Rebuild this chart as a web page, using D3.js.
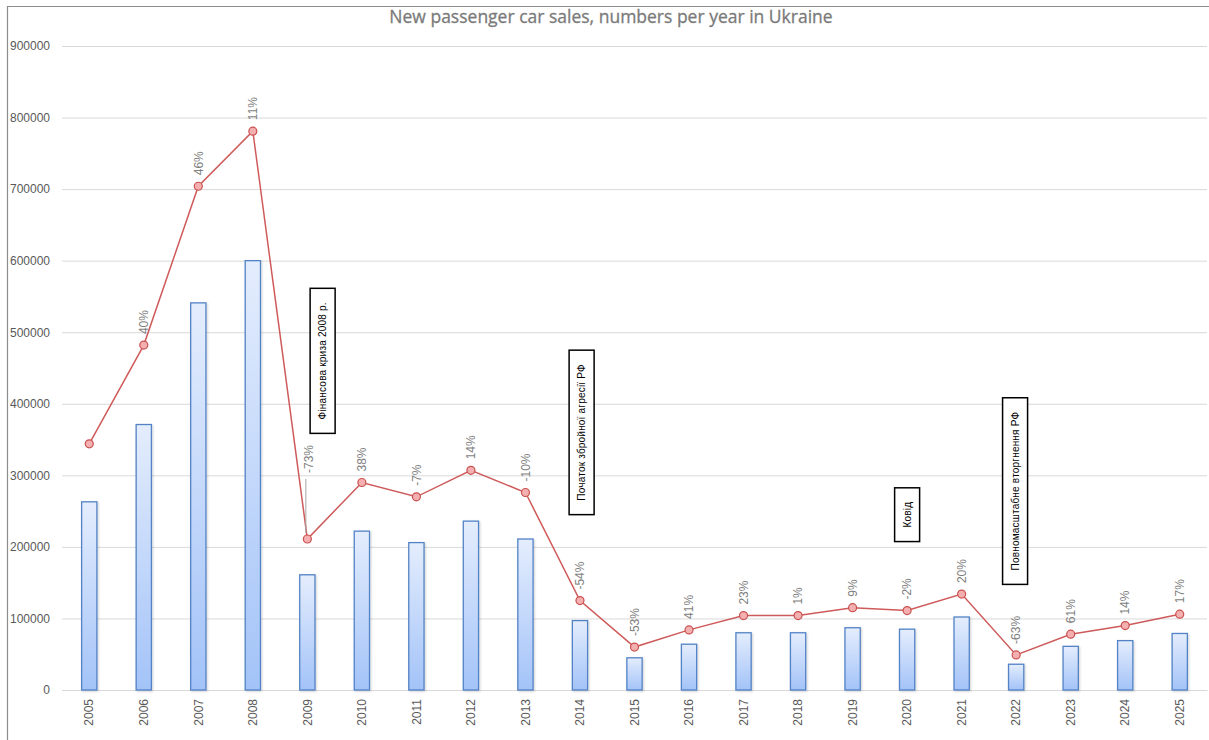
<!DOCTYPE html>
<html>
<head>
<meta charset="utf-8">
<script src="https://cdn.jsdelivr.net/npm/d3@7"></script>
<style>
  html, body { margin: 0; padding: 0; background: #ffffff; }
  svg { display: block; }
</style>
</head>
<body>
<svg id="chart" width="1209" height="740"></svg>
<script>
// Years on the category axis
const years = ["2005","2006","2007","2008","2009","2010","2011","2012","2013","2014",
               "2015","2016","2017","2018","2019","2020","2021","2022","2023","2024","2025"];

// Column series: new passenger cars sold per year
const sales = [263000, 371000, 541000, 600000, 161000, 222000, 206000, 236000, 211000, 97000,
               45000, 64000, 80000, 80000, 87000, 85000, 102000, 36000, 61000, 69000, 79000];

// Line series drawn with markers
const trend = [344000, 482000, 704000, 781000, 211000, 290000, 270000, 307000, 276000, 125000,
               60000, 84000, 104000, 104000, 115000, 111000, 134000, 49000, 78000, 90000, 106000];

// Year-on-year change labels shown above the line points
const changes = ["", "40%", "46%", "11%", "-73%", "38%", "-7%", "14%", "-10%", "-54%",
                 "-53%", "41%", "23%", "1%", "9%", "-2%", "20%", "-63%", "61%", "14%", "17%"];

// Value-axis ticks
const yTicks = [0, 100000, 200000, 300000, 400000, 500000, 600000, 700000, 800000, 900000];

// Event notes
const noteTexts = ["Фінансова криза 2008 р.", "Початок збройної агресії РФ", "Ковід", "Повномасштабне вторгнення РФ"];
const noteYears = ["2009", "2014", "2020", "2022"];
const noteCentres = [460000, 360000, 245000, 278000];

const svg = d3.select("#chart");
const font = "'Liberation Sans', Arial, sans-serif";

const plot = { left: 62, right: 1207, top: 46, bottom: 690 };

const x = d3.scaleBand().domain(years).range([plot.left, plot.right]).padding(0);
const y = d3.scaleLinear().domain([0, 900000]).range([plot.bottom, plot.top]);
const cx = d => x(d) + x.bandwidth() / 2;

// Chart frame (top and left edges)
svg.append("path")
  .attr("d", "M7.5,740 V6.5 H1209")
  .attr("fill", "none").attr("stroke", "#8c8c8c").attr("stroke-width", 1.2);

// Title
svg.append("text")
  .attr("x", 611).attr("y", 23)
  .attr("text-anchor", "middle")
  .attr("font-family", "'Open Sans', sans-serif")
  .attr("font-size", 17.5)
  .attr("font-weight", 400)
  .attr("fill", "#7a7a7a")
  .attr("stroke", "#7a7a7a")
  .attr("stroke-width", 0.3)
  .text("New passenger car sales, numbers per year in Ukraine");

// Gradient for the columns
const defs = svg.append("defs");
const grad = defs.append("linearGradient")
  .attr("id", "barFill").attr("x1", 0).attr("y1", 0).attr("x2", 0).attr("y2", 1);
grad.append("stop").attr("offset", "0%").attr("stop-color", "#e4edfd");
grad.append("stop").attr("offset", "100%").attr("stop-color", "#a3c3f8");

// Soft shadow under the columns
const shadow = defs.append("filter").attr("id", "barShadow")
  .attr("x", "-30%").attr("y", "-10%").attr("width", "160%").attr("height", "120%");
shadow.append("feDropShadow")
  .attr("dx", 1).attr("dy", 1).attr("stdDeviation", 1)
  .attr("flood-color", "#000000").attr("flood-opacity", 0.18);

// Gridlines and value axis
const yAxis = d3.axisLeft(y).tickValues(yTicks).tickSize(-(plot.right - plot.left)).tickFormat(d3.format("d"));
const gy = svg.append("g").attr("transform", `translate(${plot.left},0)`).call(yAxis);
gy.select(".domain").remove();
gy.selectAll(".tick line").attr("stroke", "#d9d9d9").attr("stroke-width", 1);
gy.selectAll(".tick text")
  .attr("x", -12)
  .attr("fill", "#595959")
  .attr("font-family", font)
  .attr("font-size", 12);

// Category axis
const xAxis = d3.axisBottom(x).tickSize(0);
const gx = svg.append("g").attr("transform", `translate(0,${plot.bottom})`).call(xAxis);
gx.select(".domain").attr("stroke", "#d9d9d9");
gx.selectAll(".tick text")
  .attr("transform", "rotate(-90)")
  .attr("text-anchor", "end")
  .attr("x", -9).attr("y", 0).attr("dy", "0.35em")
  .attr("fill", "#595959")
  .attr("font-family", font)
  .attr("font-size", 12);

// Columns
const barW = x.bandwidth() * 0.28;
svg.append("g").selectAll("rect")
  .data(years)
  .join("rect")
  .attr("x", (d) => cx(d) - barW / 2)
  .attr("y", (d, i) => y(sales[i]))
  .attr("width", barW)
  .attr("height", (d, i) => y(0) - y(sales[i]))
  .attr("fill", "url(#barFill)")
  .attr("stroke", "#5383c6")
  .attr("stroke-width", 1.3)
  .attr("filter", "url(#barShadow)");

// Line with markers
const line = d3.line().x((d, i) => cx(years[i])).y(d => y(d));
svg.append("path")
  .datum(trend)
  .attr("d", line)
  .attr("fill", "none")
  .attr("stroke", "#cf5a5a")
  .attr("stroke-width", 1.5);

svg.append("g").selectAll("circle")
  .data(trend)
  .join("circle")
  .attr("cx", (d, i) => cx(years[i]))
  .attr("cy", d => y(d))
  .attr("r", 4)
  .attr("fill", "#f4b0b0")
  .attr("stroke", "#c9504f")
  .attr("stroke-width", 1.2);

// Change labels (the 2009 one is lifted clear of the steep segment with a leader line)
const liftIdx = years.indexOf("2009");
const labelGap = (i) => i === liftIdx ? 66 : 11;
const labelShift = (i) => i === liftIdx ? 1 : 0;

svg.append("line")
  .attr("x1", cx("2009") - 1.5).attr("x2", cx("2009") - 1.5)
  .attr("y1", y(trend[liftIdx]) - labelGap(liftIdx) + 6)
  .attr("y2", y(trend[liftIdx]) - 6)
  .attr("stroke", "#a6a6a6").attr("stroke-width", 1);

svg.append("g").selectAll("text")
  .data(changes)
  .join("text")
  .attr("transform", (d, i) =>
    `translate(${cx(years[i]) + labelShift(i)},${y(trend[i]) - labelGap(i)}) rotate(-90)`)
  .attr("dy", "0.35em")
  .attr("text-anchor", "start")
  .attr("fill", "#7f7f7f")
  .attr("font-family", font)
  .attr("font-size", 12)
  .text(d => d);

// Event note boxes with vertical text
const noteShift = [0.28, 0.03, 0, -0.02];
const notes = svg.append("g");
noteTexts.forEach((t, i) => {
  const nx = cx(noteYears[i]) + noteShift[i] * x.bandwidth();
  const ny = y(noteCentres[i]);
  const g = notes.append("g").attr("transform", `translate(${nx},${ny})`);
  const rect = g.append("rect");
  const txt = g.append("text")
    .attr("transform", "rotate(-90)")
    .attr("text-anchor", "middle")
    .attr("dy", "0.35em")
    .attr("font-family", font)
    .attr("font-size", 10)
    .attr("letter-spacing", 0.2)
    .attr("fill", "#000000")
    .text(t);
  const len = txt.node().getComputedTextLength();
  const h = len + 28, w = 25;
  rect.attr("x", -w / 2).attr("y", -h / 2).attr("width", w).attr("height", h)
    .attr("fill", "#ffffff").attr("stroke", "#000000").attr("stroke-width", 1.5);
});
</script>
</body>
</html>
